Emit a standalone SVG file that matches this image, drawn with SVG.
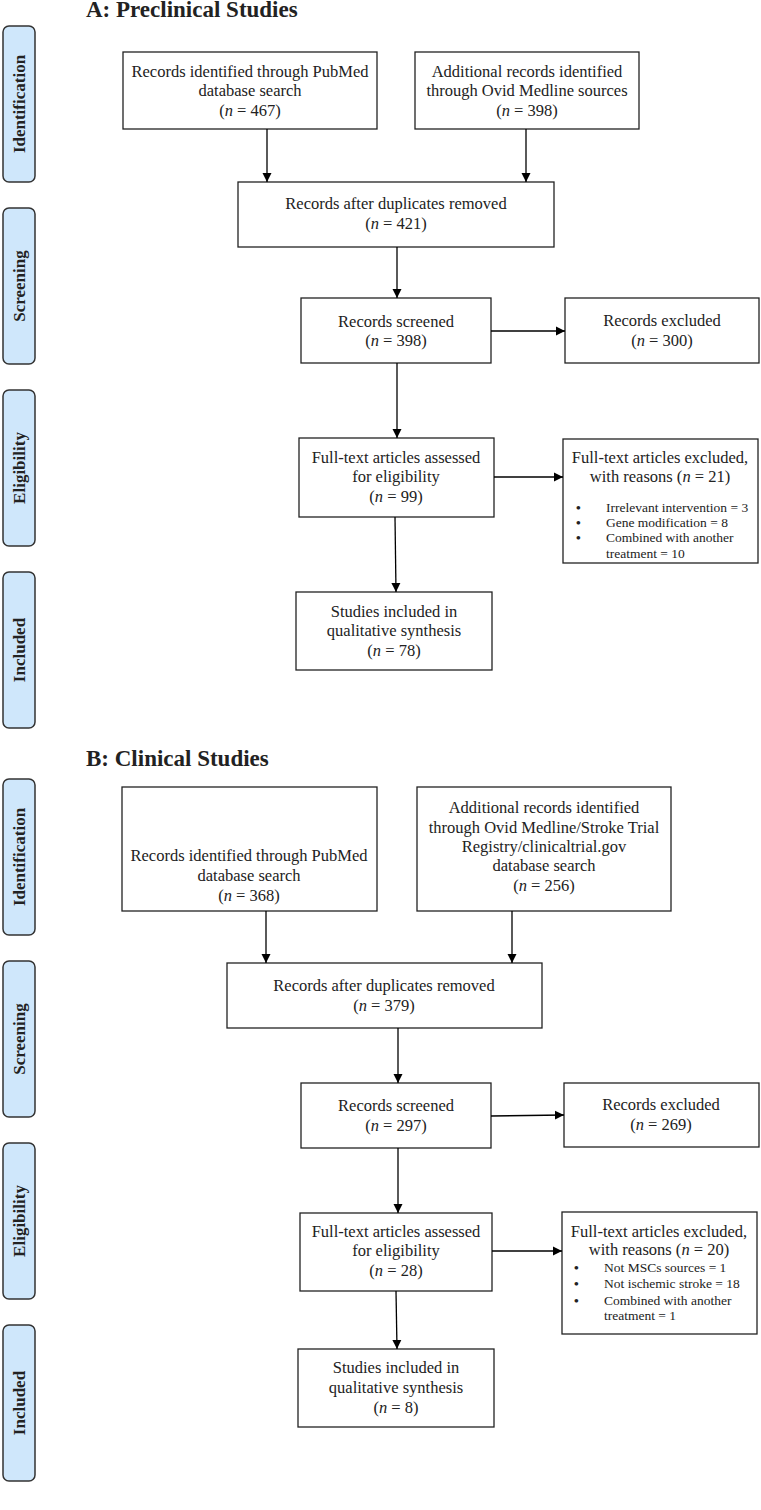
<svg xmlns="http://www.w3.org/2000/svg" width="761" height="1510" viewBox="0 0 761 1510">
<style>
.box{fill:#fff;stroke:#222;stroke-width:1.3}
.side{fill:#cfe7fb;stroke:#333;stroke-width:1.5}
.t{font-family:"Liberation Serif","Times New Roman",serif;font-size:16.5px;fill:#222;text-anchor:middle}
.b{font-family:"Liberation Serif","Times New Roman",serif;font-size:13.5px;fill:#222}
.d{font-family:"Liberation Serif","Times New Roman",serif;font-size:13.5px;font-weight:bold;fill:#222}
.sl{font-family:"Liberation Serif","Times New Roman",serif;font-size:17px;font-weight:bold;fill:#222;text-anchor:middle}
.title{font-family:"Liberation Serif","Times New Roman",serif;font-size:23px;font-weight:bold;fill:#222}
.c{stroke:#000;stroke-width:1.3;fill:none;marker-end:url(#ah)}
.i{font-style:italic}
</style>
<defs>
<marker id="ah" markerUnits="userSpaceOnUse" markerWidth="10" markerHeight="10" refX="9" refY="5" orient="auto">
<path d="M0,0.5 L9,5 L0,9.5 Z" fill="#000"/>
</marker>
</defs>

<text class="title" x="86" y="17">A: Preclinical Studies</text>
<text class="title" x="86" y="766">B: Clinical Studies</text>

<g id="sideA">
<g id="sideA-identification"><rect class="side" x="3" y="26" width="32" height="156" rx="6"/><text class="sl" transform="translate(25,104) rotate(-90)">Identification</text></g>
<g id="sideA-screening"><rect class="side" x="3" y="208" width="32" height="156" rx="6"/><text class="sl" transform="translate(25,286) rotate(-90)">Screening</text></g>
<g id="sideA-eligibility"><rect class="side" x="3" y="390" width="32" height="156" rx="6"/><text class="sl" transform="translate(25,468) rotate(-90)">Eligibility</text></g>
<g id="sideA-included"><rect class="side" x="3" y="572" width="32" height="156" rx="6"/><text class="sl" transform="translate(25,650) rotate(-90)">Included</text></g>
</g>
<g id="sideB">
<g id="sideB-identification"><rect class="side" x="3" y="779" width="32" height="156" rx="6"/><text class="sl" transform="translate(25,857) rotate(-90)">Identification</text></g>
<g id="sideB-screening"><rect class="side" x="3" y="961" width="32" height="156" rx="6"/><text class="sl" transform="translate(25,1039) rotate(-90)">Screening</text></g>
<g id="sideB-eligibility"><rect class="side" x="3" y="1143" width="32" height="156" rx="6"/><text class="sl" transform="translate(25,1221) rotate(-90)">Eligibility</text></g>
<g id="sideB-included"><rect class="side" x="3" y="1325" width="32" height="156" rx="6"/><text class="sl" transform="translate(25,1403) rotate(-90)">Included</text></g>
</g>

<g id="A-pubmed"><rect class="box" x="123" y="52" width="254" height="77"/>
<text class="t" x="250" y="77">Records identified through PubMed</text>
<text class="t" x="250" y="96">database search</text>
<text class="t" x="250" y="116">(<tspan class="i">n</tspan> = 467)</text></g>

<g id="A-ovid"><rect class="box" x="415" y="52" width="224" height="77"/>
<text class="t" x="527" y="77">Additional records identified</text>
<text class="t" x="527" y="96">through Ovid Medline sources</text>
<text class="t" x="527" y="116">(<tspan class="i">n</tspan> = 398)</text></g>

<g id="A-dup"><rect class="box" x="238" y="182" width="316" height="65"/>
<text class="t" x="396" y="209">Records after duplicates removed</text>
<text class="t" x="396" y="229">(<tspan class="i">n</tspan> = 421)</text></g>

<g id="A-screened"><rect class="box" x="301" y="298" width="190" height="65"/>
<text class="t" x="396" y="327">Records screened</text>
<text class="t" x="396" y="346">(<tspan class="i">n</tspan> = 398)</text></g>

<g id="A-excluded"><rect class="box" x="565" y="298" width="194" height="65"/>
<text class="t" x="662" y="326">Records excluded</text>
<text class="t" x="662" y="346">(<tspan class="i">n</tspan> = 300)</text></g>

<g id="A-fulltext"><rect class="box" x="299" y="438" width="195" height="79"/>
<text class="t" x="396" y="463">Full-text articles assessed</text>
<text class="t" x="396" y="482">for eligibility</text>
<text class="t" x="396" y="502">(<tspan class="i">n</tspan> = 99)</text></g>

<g id="A-ftexcluded"><rect class="box" x="563" y="439" width="195" height="124"/>
<text class="t" x="660" y="463">Full-text articles excluded,</text>
<text class="t" x="660" y="482">with reasons (<tspan class="i">n</tspan> = 21)</text>
<text class="d" x="576" y="512">•</text><text class="b" x="606" y="512">Irrelevant intervention = 3</text>
<text class="d" x="576" y="527">•</text><text class="b" x="606" y="527">Gene modification = 8</text>
<text class="d" x="576" y="542">•</text><text class="b" x="606" y="542">Combined with another</text>
<text class="b" x="606" y="558">treatment = 10</text></g>

<g id="A-included"><rect class="box" x="296" y="592" width="196" height="78"/>
<text class="t" x="394" y="617">Studies included in</text>
<text class="t" x="394" y="636">qualitative synthesis</text>
<text class="t" x="394" y="656">(<tspan class="i">n</tspan> = 78)</text></g>

<g id="B-pubmed"><rect class="box" x="122" y="787" width="255" height="124"/>
<text class="t" x="249" y="861">Records identified through PubMed</text>
<text class="t" x="249" y="881">database search</text>
<text class="t" x="249" y="901">(<tspan class="i">n</tspan> = 368)</text></g>

<g id="B-ovid"><rect class="box" x="417" y="787" width="254" height="124"/>
<text class="t" x="544" y="813">Additional records identified</text>
<text class="t" x="544" y="833">through Ovid Medline/Stroke Trial</text>
<text class="t" x="544" y="852">Registry/clinicaltrial.gov</text>
<text class="t" x="544" y="871">database search</text>
<text class="t" x="544" y="891">(<tspan class="i">n</tspan> = 256)</text></g>

<g id="B-dup"><rect class="box" x="227" y="963" width="315" height="65"/>
<text class="t" x="384" y="991">Records after duplicates removed</text>
<text class="t" x="384" y="1011">(<tspan class="i">n</tspan> = 379)</text></g>

<g id="B-screened"><rect class="box" x="301" y="1083" width="190" height="65"/>
<text class="t" x="396" y="1111">Records screened</text>
<text class="t" x="396" y="1131">(<tspan class="i">n</tspan> = 297)</text></g>

<g id="B-excluded"><rect class="box" x="564" y="1083" width="195" height="64"/>
<text class="t" x="661" y="1110">Records excluded</text>
<text class="t" x="661" y="1130">(<tspan class="i">n</tspan> = 269)</text></g>

<g id="B-fulltext"><rect class="box" x="300" y="1213" width="192" height="78"/>
<text class="t" x="396" y="1237">Full-text articles assessed</text>
<text class="t" x="396" y="1256">for eligibility</text>
<text class="t" x="396" y="1276">(<tspan class="i">n</tspan> = 28)</text></g>

<g id="B-ftexcluded"><rect class="box" x="562" y="1212" width="195" height="122"/>
<text class="t" x="659" y="1237">Full-text articles excluded,</text>
<text class="t" x="659" y="1255">with reasons (<tspan class="i">n</tspan> = 20)</text>
<text class="d" x="574" y="1272">•</text><text class="b" x="604" y="1272">Not MSCs sources = 1</text>
<text class="d" x="574" y="1288">•</text><text class="b" x="604" y="1288">Not ischemic stroke = 18</text>
<text class="d" x="574" y="1305">•</text><text class="b" x="604" y="1305">Combined with another</text>
<text class="b" x="604" y="1320">treatment = 1</text></g>

<g id="B-included"><rect class="box" x="298" y="1349" width="196" height="78"/>
<text class="t" x="396" y="1373">Studies included in</text>
<text class="t" x="396" y="1393">qualitative synthesis</text>
<text class="t" x="396" y="1413">(<tspan class="i">n</tspan> = 8)</text></g>

<g id="connectors">
<line class="c" x1="267" y1="129" x2="267" y2="182"/>
<line class="c" x1="526" y1="129" x2="526" y2="182"/>
<line class="c" x1="397" y1="247" x2="397" y2="298"/>
<line class="c" x1="491" y1="331" x2="565" y2="331"/>
<line class="c" x1="397" y1="363" x2="397" y2="438"/>
<line class="c" x1="494" y1="477" x2="563" y2="477"/>
<line class="c" x1="395" y1="517" x2="396" y2="592"/>
<line class="c" x1="266" y1="911" x2="266" y2="963"/>
<line class="c" x1="512" y1="911" x2="512" y2="963"/>
<line class="c" x1="398" y1="1028" x2="398" y2="1083"/>
<line class="c" x1="491" y1="1116" x2="564" y2="1115"/>
<line class="c" x1="398" y1="1148" x2="398" y2="1213"/>
<line class="c" x1="492" y1="1251" x2="562" y2="1251"/>
<line class="c" x1="396" y1="1291" x2="397" y2="1349"/>
</g>
</svg>
